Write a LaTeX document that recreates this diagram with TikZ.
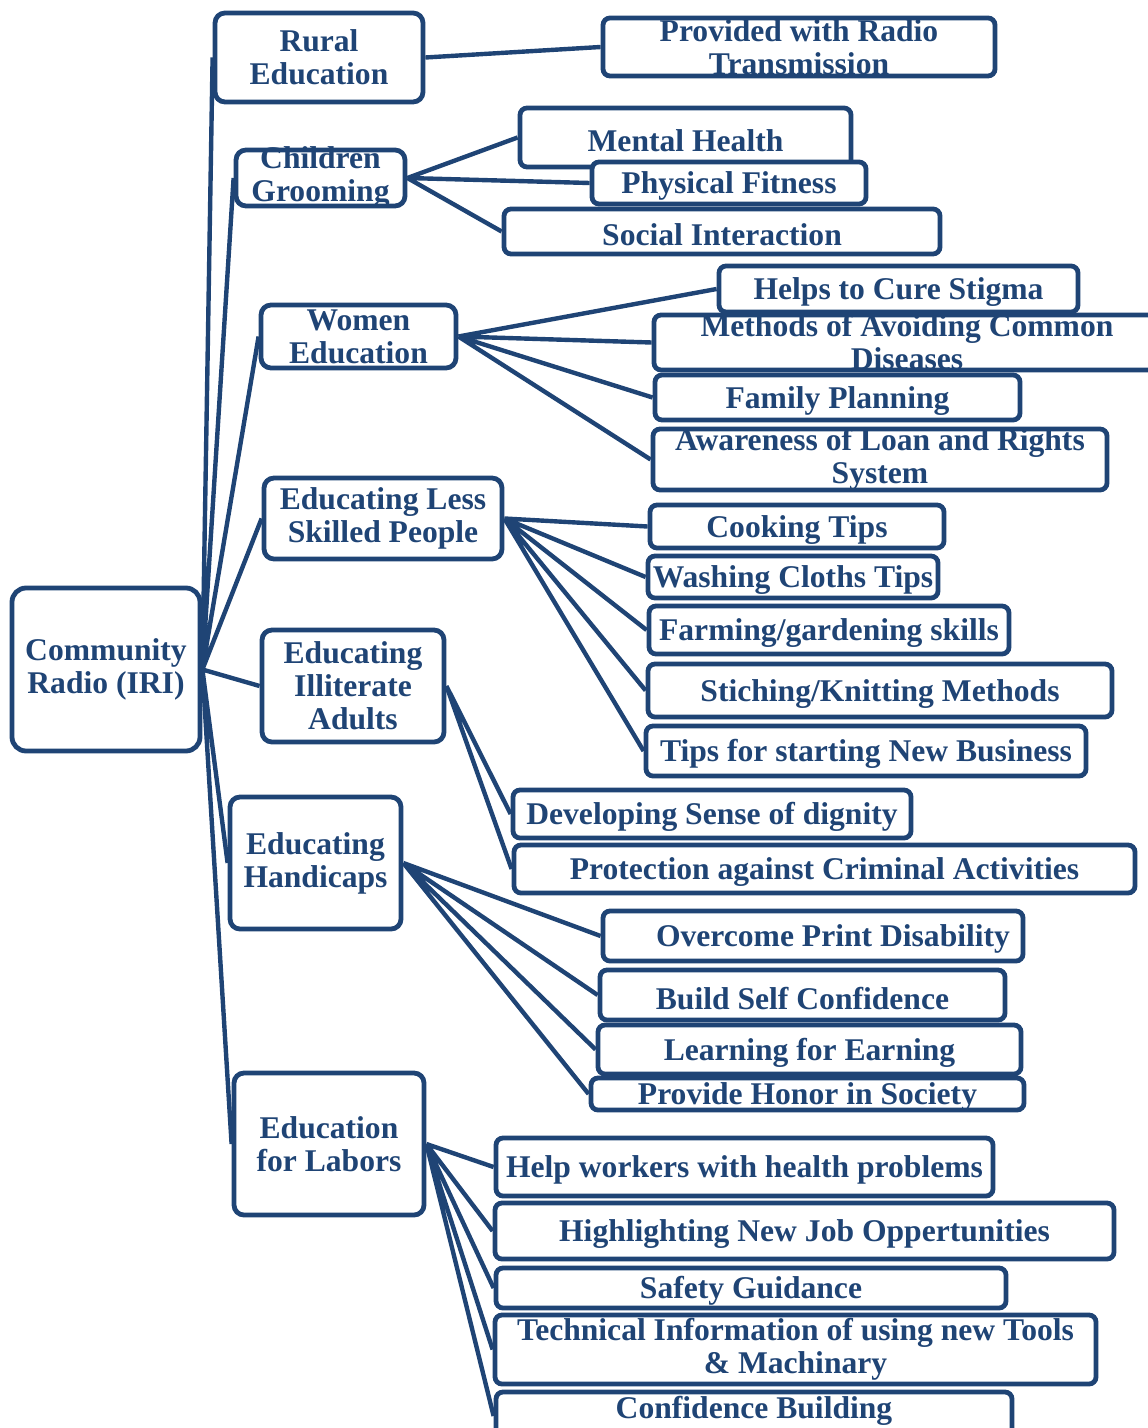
\documentclass[tikz,border=0pt]{standalone}
\usepackage{fontspec}
\setmainfont{Liberation Serif}
\usetikzlibrary{fit}
\definecolor{radioblue}{RGB}{31,68,117}

\begin{document}
\begin{tikzpicture}[x=0.5pt,y=-0.5pt,
    every node/.style={font=\fontsize{15.8}{16.5}\selectfont\bfseries, text=radioblue},
    every label/.style={align=center, inner sep=0pt},
    single/.style={yshift=-1.6pt},
    topic/.style={draw=radioblue, fill=white, line width=2.4pt, rounded corners=3.5pt, inner sep=0pt},
    branch/.style={topic, rounded corners=5pt},
    hub/.style={topic, rounded corners=7pt},
    link/.style={draw=radioblue, line width=2.2pt}]
  \useasboundingbox (0,0) rectangle (1147,1428);                                     % page size

  \node[hub, fit={(12,588) (200,751)}, label=center:{Community\\Radio (IRI)}] (community) {};   % root on the left

  \node[branch, fit={(215,13) (423,102)}, label=center:{Rural\\Education}] (rural) {};
  \node[branch, fit={(236,150) (405,206)}, label=center:{Children\\Grooming}] (child) {};
  \node[branch, fit={(261,305) (456,368)}, label=center:{Women\\Education}] (women) {};
  \node[branch, fit={(264,478) (502,559)}, label=center:{Educating Less\\Skilled People}] (skill) {};
  \node[branch, fit={(262,630) (444,742)}, label=center:{Educating\\Illiterate\\Adults}] (illit) {};
  \node[branch, fit={(230,797) (401,929)}, label=center:{Educating\\Handicaps}] (hand) {};
  \node[branch, fit={(234,1073) (424,1215)}, label=center:{Education\\for Labors}] (labor) {};

  \node[topic, fit={(603,18) (995,76)}, label=center:{Provided with Radio\\Transmission}] (transmit) {};

  \node[topic, fit={(520,108) (851,167)}, label={[single]center:{Mental Health}}] (mental) {};
  \node[topic, fit={(592,162) (866,204)}, label={[single]center:{Physical Fitness}}] (fitness) {};
  \node[topic, fit={(504,209) (940,254)}, label={[single]center:{Social Interaction}}] (social) {};

  \node[topic, fit={(719,266) (1078,312)}, label={[single]center:{Helps to Cure Stigma}}] (stigma) {};
  \node[topic, fit={(654,315) (1160,370)}, label=center:{Methods of Avoiding Common\\Diseases}] (disease) {};
  \node[topic, fit={(655,375) (1020,420)}, label={[single]center:{Family Planning}}] (family) {};
  \node[topic, fit={(653,429) (1107,490)}, label=center:{Awareness of Loan and Rights\\System}] (loan) {};

  \node[topic, fit={(650,505) (944,548)}, label={[single]center:{Cooking Tips}}] (cook) {};
  \node[topic, fit={(648,556) (938,598)}, label={[single]center:{Washing Cloths Tips}}] (wash) {};
  \node[topic, fit={(649,606) (1009,654)}, label={[single]center:{Farming/gardening skills}}] (farm) {};
  \node[topic, fit={(648,664) (1112,717)}, label={[single]center:{Stiching/Knitting Methods}}] (stitch) {};
  \node[topic, fit={(646,726) (1086,776)}, label={[single]center:{Tips for starting New Business}}] (business) {};

  \node[topic, fit={(513,790) (911,838)}, label={[single]center:{Developing Sense of dignity}}] (dignity) {};
  \node[topic, fit={(514,845) (1135,893)}, label={[single]center:{Protection against Criminal Activities}}] (crime) {};

  \node[topic, fit={(603,911) (1023,961)}, label={[single,xshift=10pt]center:{Overcome Print Disability}}] (print) {};
  \node[topic, fit={(600,970) (1005,1020)}, label={[single]center:{Build Self Confidence}}] (selfconf) {};
  \node[topic, fit={(598,1025) (1021,1074)}, label={[single]center:{Learning for Earning}}] (earn) {};
  \node[topic, fit={(591,1078) (1024,1110)}, label={[single]center:{Provide Honor in Society}}] (honor) {};

  \node[topic, fit={(496,1138) (993,1196)}, label={[single]center:{Help workers with health problems}}] (health) {};
  \node[topic, fit={(495,1203) (1114,1259)}, label={[single]center:{Highlighting New Job Oppertunities}}] (jobs) {};
  \node[topic, fit={(496,1268) (1006,1308)}, label={[single]center:{Safety Guidance}}] (safety) {};
  \node[topic, fit={(495,1315) (1096,1384)}, label=center:{Technical Information of using new Tools\\\& Machinary}] (tools) {};
  \node[topic, fit={(496,1392) (1012,1440)}, label={[single,yshift=4pt]center:{Confidence Building}}] (building) {};   % runs off the bottom

  % root to the seven topics
  \draw[link] (community.east) -- (rural.west) (community.east) -- (child.west) (community.east) -- (women.west)
    (community.east) -- (skill.west) (community.east) -- (illit.west) (community.east) -- (hand.west)
    (community.east) -- (labor.west);

  % topics to their points
  \draw[link] (rural.east) -- (transmit.west);
  \draw[link] (child.east) -- (mental.west) (child.east) -- (fitness.west) (child.east) -- (social.west);
  \draw[link] (women.east) -- (stigma.west) (women.east) -- (disease.west) (women.east) -- (family.west)
    (women.east) -- (loan.west);
  \draw[link] (skill.east) -- (cook.west) (skill.east) -- (wash.west) (skill.east) -- (farm.west)
    (skill.east) -- (stitch.west) (skill.east) -- (business.west);
  \draw[link] (illit.east) -- (dignity.west) (illit.east) -- (crime.west);
  \draw[link] (hand.east) -- (print.west) (hand.east) -- (selfconf.west) (hand.east) -- (earn.west)
    (hand.east) -- (honor.west);
  \draw[link] (labor.east) -- (health.west) (labor.east) -- (jobs.west) (labor.east) -- (safety.west)
    (labor.east) -- (tools.west) (labor.east) -- (building.west);
\end{tikzpicture}
\end{document}
